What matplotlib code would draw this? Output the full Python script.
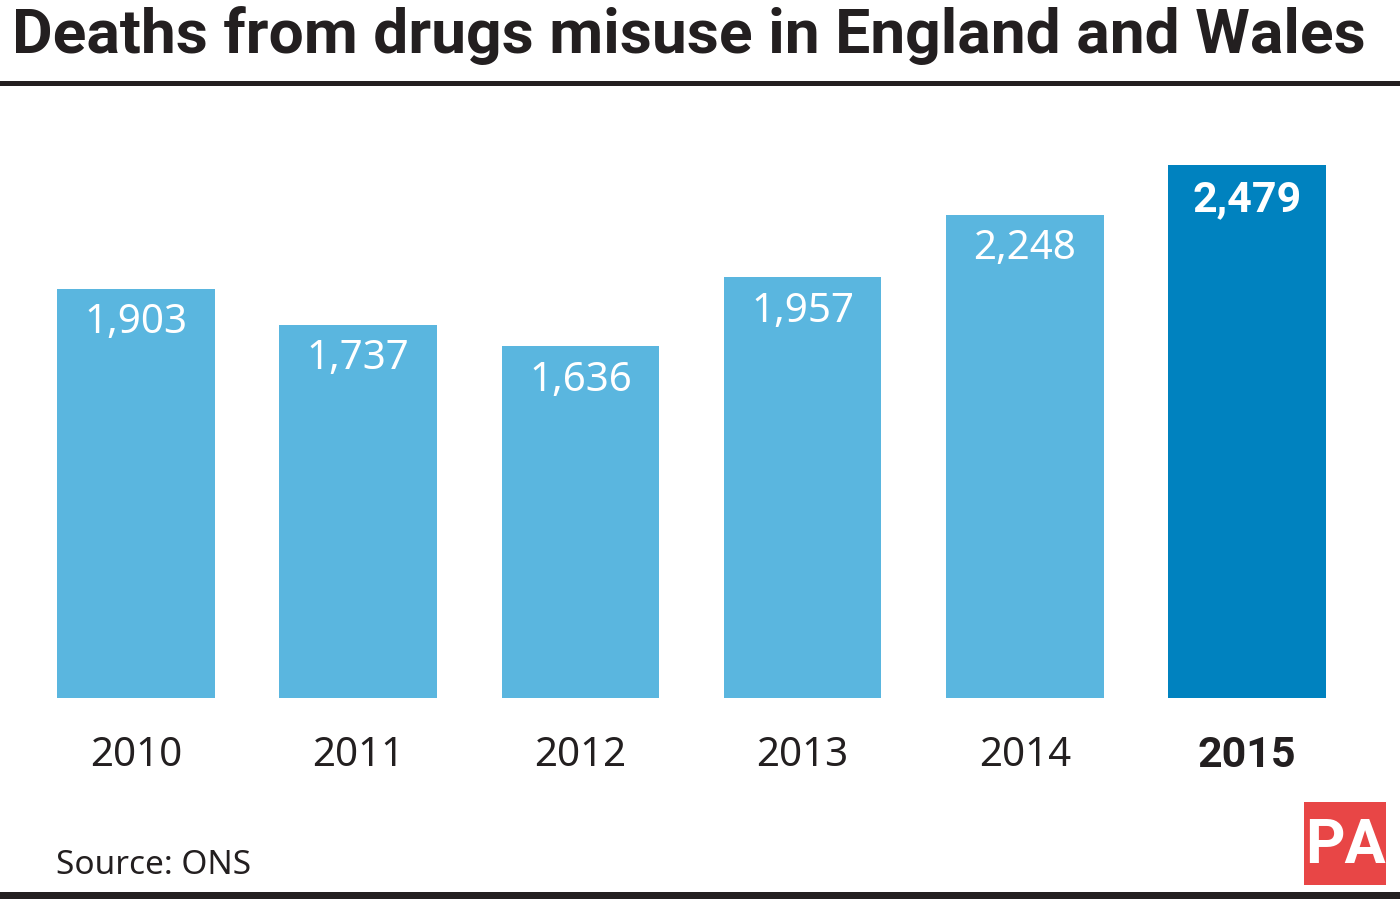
import matplotlib.pyplot as plt
from matplotlib.patches import Rectangle

years = ["2010", "2011", "2012", "2013", "2014", "2015"]
deaths = [1903, 1737, 1636, 1957, 2248, 2479]
value_labels = ["1,903", "1,737", "1,636", "1,957", "2,248", "2,479"]

LIGHT = "#5ab6df"
DARK = "#0082bf"
INK = "#231f20"
FONT = ["Noto Sans", "DejaVu Sans"]
BOLD = ["Roboto", "DejaVu Sans"]

W, H = 1400, 903
fig = plt.figure(figsize=(W / 100, H / 100), dpi=100)
fig.patch.set_facecolor("white")


def fx(px):
    return px / W


def fy(py):
    return 1 - py / H


# axes spans bar bottom (y=699) to tallest bar top (y=166)
ax = fig.add_axes([fx(25), fy(699), fx(1358 - 25), (699 - 166) / H])
x = range(len(years))
colors = [LIGHT] * (len(years) - 1) + [DARK]
ax.bar(x, deaths, width=0.71, color=colors)
ax.set_xlim(-0.5, len(years) - 0.5)
ax.set_ylim(0, max(deaths))
ax.axis("off")

for i, (v, lab) in enumerate(zip(deaths, value_labels)):
    last = i == len(years) - 1
    ax.annotate(lab, (i, v), xytext=(0, -24), textcoords="offset points",
                ha="center", va="center", color="white",
                fontsize=31 if last else 29,
                fontweight="bold" if last else "normal",
                family=BOLD if last else FONT)
    ax.annotate(years[i], (i, 0), xytext=(0, -41), textcoords="offset points",
                ha="center", va="center", color=INK,
                fontsize=31 if last else 29,
                fontweight="bold" if last else "normal",
                family=BOLD if last else FONT)

title = fig.text(fx(12), fy(53), "Deaths from drugs misuse in England and Wales",
                 ha="left", va="baseline", fontsize=41, fontweight="bold",
                 color=INK, family=BOLD)
# fit title width to the reference span
fig.canvas.draw()
tw = title.get_window_extent().width
title.set_fontsize(41 * 1356 / tw)

fig.text(fx(56), fy(874), "Source: ONS", ha="left", va="baseline",
         fontsize=24, color=INK, family=FONT)

# rules
fig.add_artist(Rectangle((0, fy(87)), 1, 5 / H, transform=fig.transFigure,
                         color=INK, lw=0))
fig.add_artist(Rectangle((0, fy(900)), 1, 7 / H, transform=fig.transFigure,
                         color=INK, lw=0))

# PA logo
fig.add_artist(Rectangle((fx(1304), fy(886)), fx(82), 83 / H,
                         transform=fig.transFigure, color="#e84646", lw=0))
fig.text(fx(1345), fy(846), "PA", ha="center", va="center", fontsize=44,
         fontweight="bold", color="white", family=BOLD)

fig.savefig("out.png", dpi=100)
